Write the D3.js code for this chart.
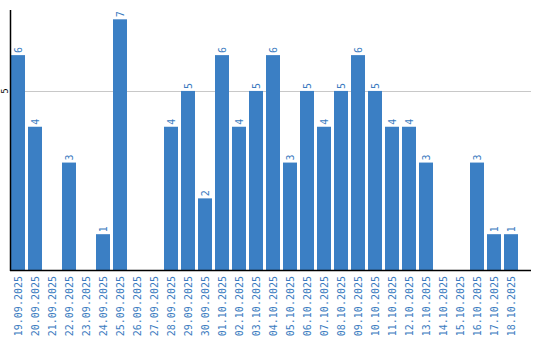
<!DOCTYPE html>
<html>
<head>
<meta charset="utf-8">
<script src="https://cdn.jsdelivr.net/npm/d3@7"></script>
<style>
  html, body { margin: 0; padding: 0; background: #fff; }
  svg { display: block; }
  .lbl { font-family: "DejaVu Sans Mono", monospace; font-size: 10px; fill: #3a7bc0; }
</style>
</head>
<body>
<svg id="chart" width="540" height="340"></svg>
<script>
// dates (categories) and counts
const dates = [
  "19.09.2025", "20.09.2025", "21.09.2025", "22.09.2025", "23.09.2025",
  "24.09.2025", "25.09.2025", "26.09.2025", "27.09.2025", "28.09.2025",
  "29.09.2025", "30.09.2025", "01.10.2025", "02.10.2025", "03.10.2025",
  "04.10.2025", "05.10.2025", "06.10.2025", "07.10.2025", "08.10.2025",
  "09.10.2025", "10.10.2025", "11.10.2025", "12.10.2025", "13.10.2025",
  "14.10.2025", "15.10.2025", "16.10.2025", "17.10.2025", "18.10.2025"
];
const counts = [6, 4, 0, 3, 0, 1, 7, 0, 0, 4, 5, 2, 6, 4, 5, 6, 3, 5, 4, 5, 6, 5, 4, 4, 3, 0, 0, 3, 1, 1];
const yTicks = [5];

const barColor = "#3b7fc4";
const plotLeft = 11, plotRight = 531, plotTop = 10, plotBottom = 270;

const svg = d3.select("#chart");

const x = d3.scaleBand()
  .domain(dates)
  .range([plotLeft, plotLeft + dates.length * 17])
  .paddingInner(3 / 17)
  .paddingOuter(3 / 34)
  .align(0);

const y = d3.scaleLinear()
  .domain([0, 7.26])
  .range([plotBottom, plotTop]);

const rows = counts.map((v, i) => ({ date: dates[i], value: v }));

// grid line(s)
svg.append("g")
  .selectAll("line")
  .data(yTicks)
  .join("line")
  .attr("x1", plotLeft)
  .attr("x2", plotRight)
  .attr("y1", (d) => Math.round(y(d)) + 0.5)
  .attr("y2", (d) => Math.round(y(d)) + 0.5)
  .attr("stroke", "#c8c8c8")
  .attr("stroke-width", 1);

// y tick labels, rotated
svg.append("g")
  .selectAll("text")
  .data(yTicks)
  .join("text")
  .attr("transform", (d) => `translate(8,${y(d)}) rotate(-90)`)
  .attr("text-anchor", "middle")
  .style("font-family", "DejaVu Sans, sans-serif")
  .style("font-size", "8px")
  .attr("fill", "#000")
  .text((d) => d);

// bars
svg.append("g")
  .selectAll("rect")
  .data(rows)
  .join("rect")
  .attr("x", (d) => x(d.date))
  .attr("width", x.bandwidth())
  .attr("y", (d) => y(d.value))
  .attr("height", (d) => y(0) - y(d.value))
  .attr("fill", barColor);

// value labels above bars
svg.append("g")
  .selectAll("text")
  .data(rows.filter((d) => d.value > 0))
  .join("text")
  .attr("class", "lbl")
  .attr("transform", (d) =>
    `translate(${x(d.date) + x.bandwidth() / 2 + 3.5},${y(d.value) - 2}) rotate(-90)`)
  .attr("text-anchor", "start")
  .text((d) => d.value);

// axes lines
svg.append("line")
  .attr("x1", 10.5).attr("x2", 10.5)
  .attr("y1", plotTop).attr("y2", plotBottom + 1)
  .attr("stroke", "#000").attr("stroke-width", 1.5);
svg.append("line")
  .attr("x1", 10).attr("x2", plotRight)
  .attr("y1", plotBottom + 0.5).attr("y2", plotBottom + 0.5)
  .attr("stroke", "#000").attr("stroke-width", 1.5);

// x tick labels, rotated
svg.append("g")
  .selectAll("text")
  .data(dates)
  .join("text")
  .attr("class", "lbl")
  .attr("transform", (d) => `translate(${x(d) + x.bandwidth() / 2 + 3.5},${plotBottom + 6}) rotate(-90)`)
  .attr("text-anchor", "end")
  .text((d) => d);
</script>
</body>
</html>
